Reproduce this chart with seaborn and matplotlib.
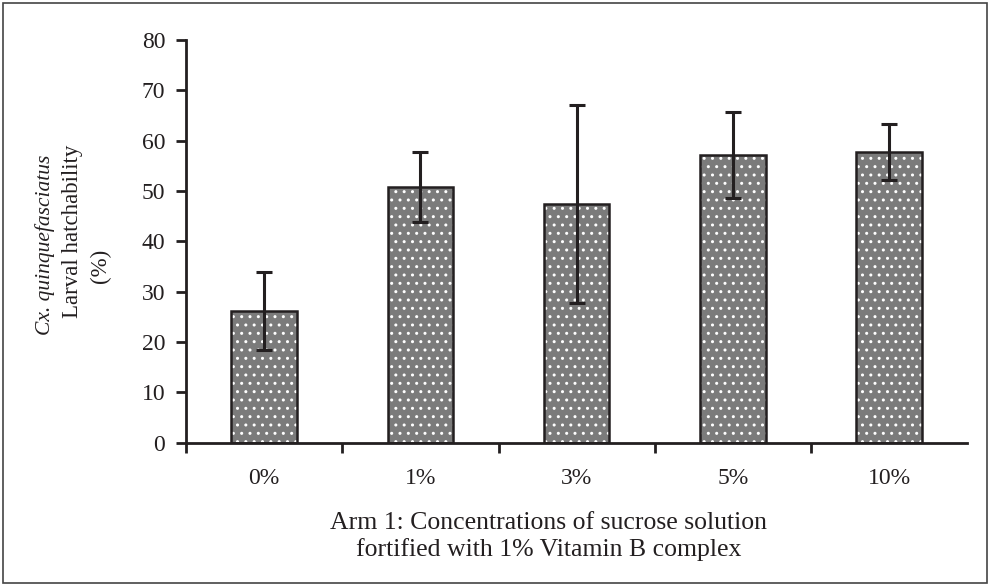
import matplotlib
matplotlib.use("Agg")
import matplotlib.pyplot as plt
import seaborn as sns
import pandas as pd
from matplotlib.patches import Rectangle

# values
concentrations = ["0%", "1%", "3%", "5%", "10%"]
hatchability = [26.2, 50.8, 47.4, 57.1, 57.7]
error = [7.7, 7.0, 19.6, 8.5, 5.6]

df = pd.DataFrame({"conc": concentrations, "hatch": hatchability})

sns.set_style("white")
plt.rcParams["font.family"] = ["Liberation Serif", "DejaVu Serif"]
ink = "#231f20"

fig = plt.figure(figsize=(9.9, 5.85), dpi=100)
ax = fig.add_axes([0.188, 0.243, 0.789, 0.689])

# stippled fill: grey bars with white dot hatch
sns.barplot(data=df, x="conc", y="hatch", ax=ax, color="#7b7b7b", width=0.42,
            errorbar=None, saturation=1, edgecolor="white", linewidth=0, hatch="..")
# outline on top
sns.barplot(data=df, x="conc", y="hatch", ax=ax, width=0.42, errorbar=None,
            fill=False, edgecolor=ink, linewidth=1.8)

ax.errorbar(range(len(concentrations)), hatchability, yerr=error, fmt="none",
            ecolor=ink, elinewidth=2.2, capsize=5.5, capthick=2.2)

ax.set_ylim(0, 80)
ax.set_xlim(-0.5, len(concentrations) - 0.5)
ax.set_yticks(range(0, 81, 10))
ax.set_xticks([i - 0.5 for i in range(len(concentrations))], minor=False)
ax.set_xticklabels([])
ax.set_xticks(range(len(concentrations)), minor=True)
ax.set_xticklabels(concentrations, minor=True)
ax.tick_params(axis="x", which="major", direction="out", length=7, width=2,
               color=ink, bottom=True)
ax.tick_params(axis="x", which="minor", length=0, pad=18, labelsize=17,
               labelcolor=ink)
ax.tick_params(axis="y", direction="out", length=7, width=2, color=ink,
               left=True, labelsize=17, labelcolor=ink, pad=8)

sns.despine(ax=ax)
for s in ["left", "bottom"]:
    ax.spines[s].set_linewidth(2)
    ax.spines[s].set_color(ink)

ax.set_xlabel("")
ax.set_ylabel("")

# y label in three lines, first one italic
fig.text(0.045, 0.581, "Cx. quinquefasciatus", rotation=90, style="italic",
         ha="center", va="center", fontsize=15.5, color=ink)
fig.text(0.073, 0.605, "Larval hatchability", rotation=90,
         ha="center", va="center", fontsize=16.5, color=ink)
fig.text(0.101, 0.545, "(%)", rotation=90,
         ha="center", va="center", fontsize=16.5, color=ink)

fig.text(0.554, 0.083, "Arm 1: Concentrations of sucrose solution\nfortified with 1% Vitamin B complex",
         ha="center", va="center", fontsize=18.5, color=ink, linespacing=1.27)

# thin frame round the whole picture
fig.patches.append(Rectangle((0.003, 0.003), 0.994, 0.992, transform=fig.transFigure,
                             fill=False, edgecolor="#444444", linewidth=1.2))

fig.savefig("out.png", dpi=100)
